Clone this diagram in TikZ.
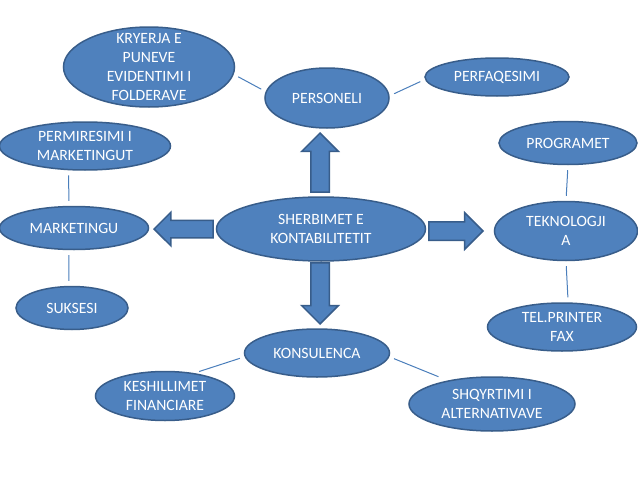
\documentclass[tikz,border=0pt]{standalone}
\usepackage{fontspec}
\setmainfont{Carlito}
\usetikzlibrary{shapes.geometric,shapes.arrows}
\definecolor{boxblue}{HTML}{4F81BD}
\definecolor{edgeblue}{HTML}{385D8A}
\definecolor{lineblue}{HTML}{4A7EBB}
\begin{document}
\begin{tikzpicture}[x=1pt, y=-1pt,
  main node/.style={ellipse,draw=edgeblue,fill=boxblue,line width=1.5pt,inner sep=0pt,text=white,align=center,font=\fontsize{15.7}{19}\selectfont},
  big arrow/.style={single arrow,draw=edgeblue,fill=boxblue,line width=1.5pt,inner sep=8.5pt,single arrow head extend=9pt,anchor=tip},
  link/.style={draw=lineblue,line width=1pt,shorten >=5pt,shorten <=5pt}]
\useasboundingbox (0,0) rectangle (638,479);
\node [main node,minimum width=171pt,minimum height=80pt,inner ysep=-6pt](kryerja) at (149,67) {KRYERJA E\\PUNEVE\\EVIDENTIMI I\\FOLDERAVE};
\node [main node,minimum width=124pt,minimum height=60pt](personeli) at (327,98) {PERSONELI};
\node [main node,minimum width=144pt,minimum height=38pt](perfaqesimi) at (497,77) {PERFAQESIMI};
\node [main node,minimum width=171pt,minimum height=48pt](permiresimi) at (85,146) {PERMIRESIMI I\\MARKETINGUT};
\node [main node,minimum width=138pt,minimum height=43pt](programet) at (568,143) {PROGRAMET};
\node [main node,minimum width=149pt,minimum height=43pt](marketingu) at (74,228) {MARKETINGU};
\node [main node,minimum width=209pt,minimum height=64pt](sherbimet) at (321,229) {SHERBIMET E\\KONTABILITETIT};
\node [main node,minimum width=143pt,minimum height=59pt](teknologji) at (566,231) {TEKNOLOGJI\\A};
\node [main node,minimum width=112pt,minimum height=43pt](suksesi) at (72,308) {SUKSESI};
\node [main node,minimum width=149pt,minimum height=48pt](telprinter) at (562,327) {TEL.PRINTER\\FAX};
\node [main node,minimum width=145pt,minimum height=48pt](konsulenca) at (317,353) {KONSULENCA};
\node [main node,minimum width=139pt,minimum height=49pt](keshillimet) at (165,396) {KESHILLIMET\\FINANCIARE};
\node [main node,minimum width=166pt,minimum height=54pt](shqyrtimi) at (492,404) {SHQYRTIMI I\\ALTERNATIVAVE};
% block arrows out of the centre
\node [big arrow,shape border rotate=90,minimum height=59pt](uparrow) at (320,132) {};
\node [big arrow,shape border rotate=270,minimum height=61pt](downarrow) at (320,325) {};
\node [big arrow,shape border rotate=180,minimum height=59pt,inner sep=8pt,single arrow head extend=8pt](leftarrow) at (153,229) {};
\node [big arrow,minimum height=54pt](rightarrow) at (484,231) {};
\path [link]
    (kryerja.-5) edge (personeli.174)
    (personeli.2) edge (perfaqesimi.182)
    (permiresimi.236) edge (marketingu.103)
    (marketingu.257) edge (suksesi.98)
    (programet.south) edge (teknologji.north)
    (teknologji.south) edge (telprinter.76)
    (konsulenca.183) edge (keshillimet.38)
    (konsulenca.-3) edge[shorten >=10pt] (shqyrtimi.152)
         ;
\end{tikzpicture}
\end{document}
